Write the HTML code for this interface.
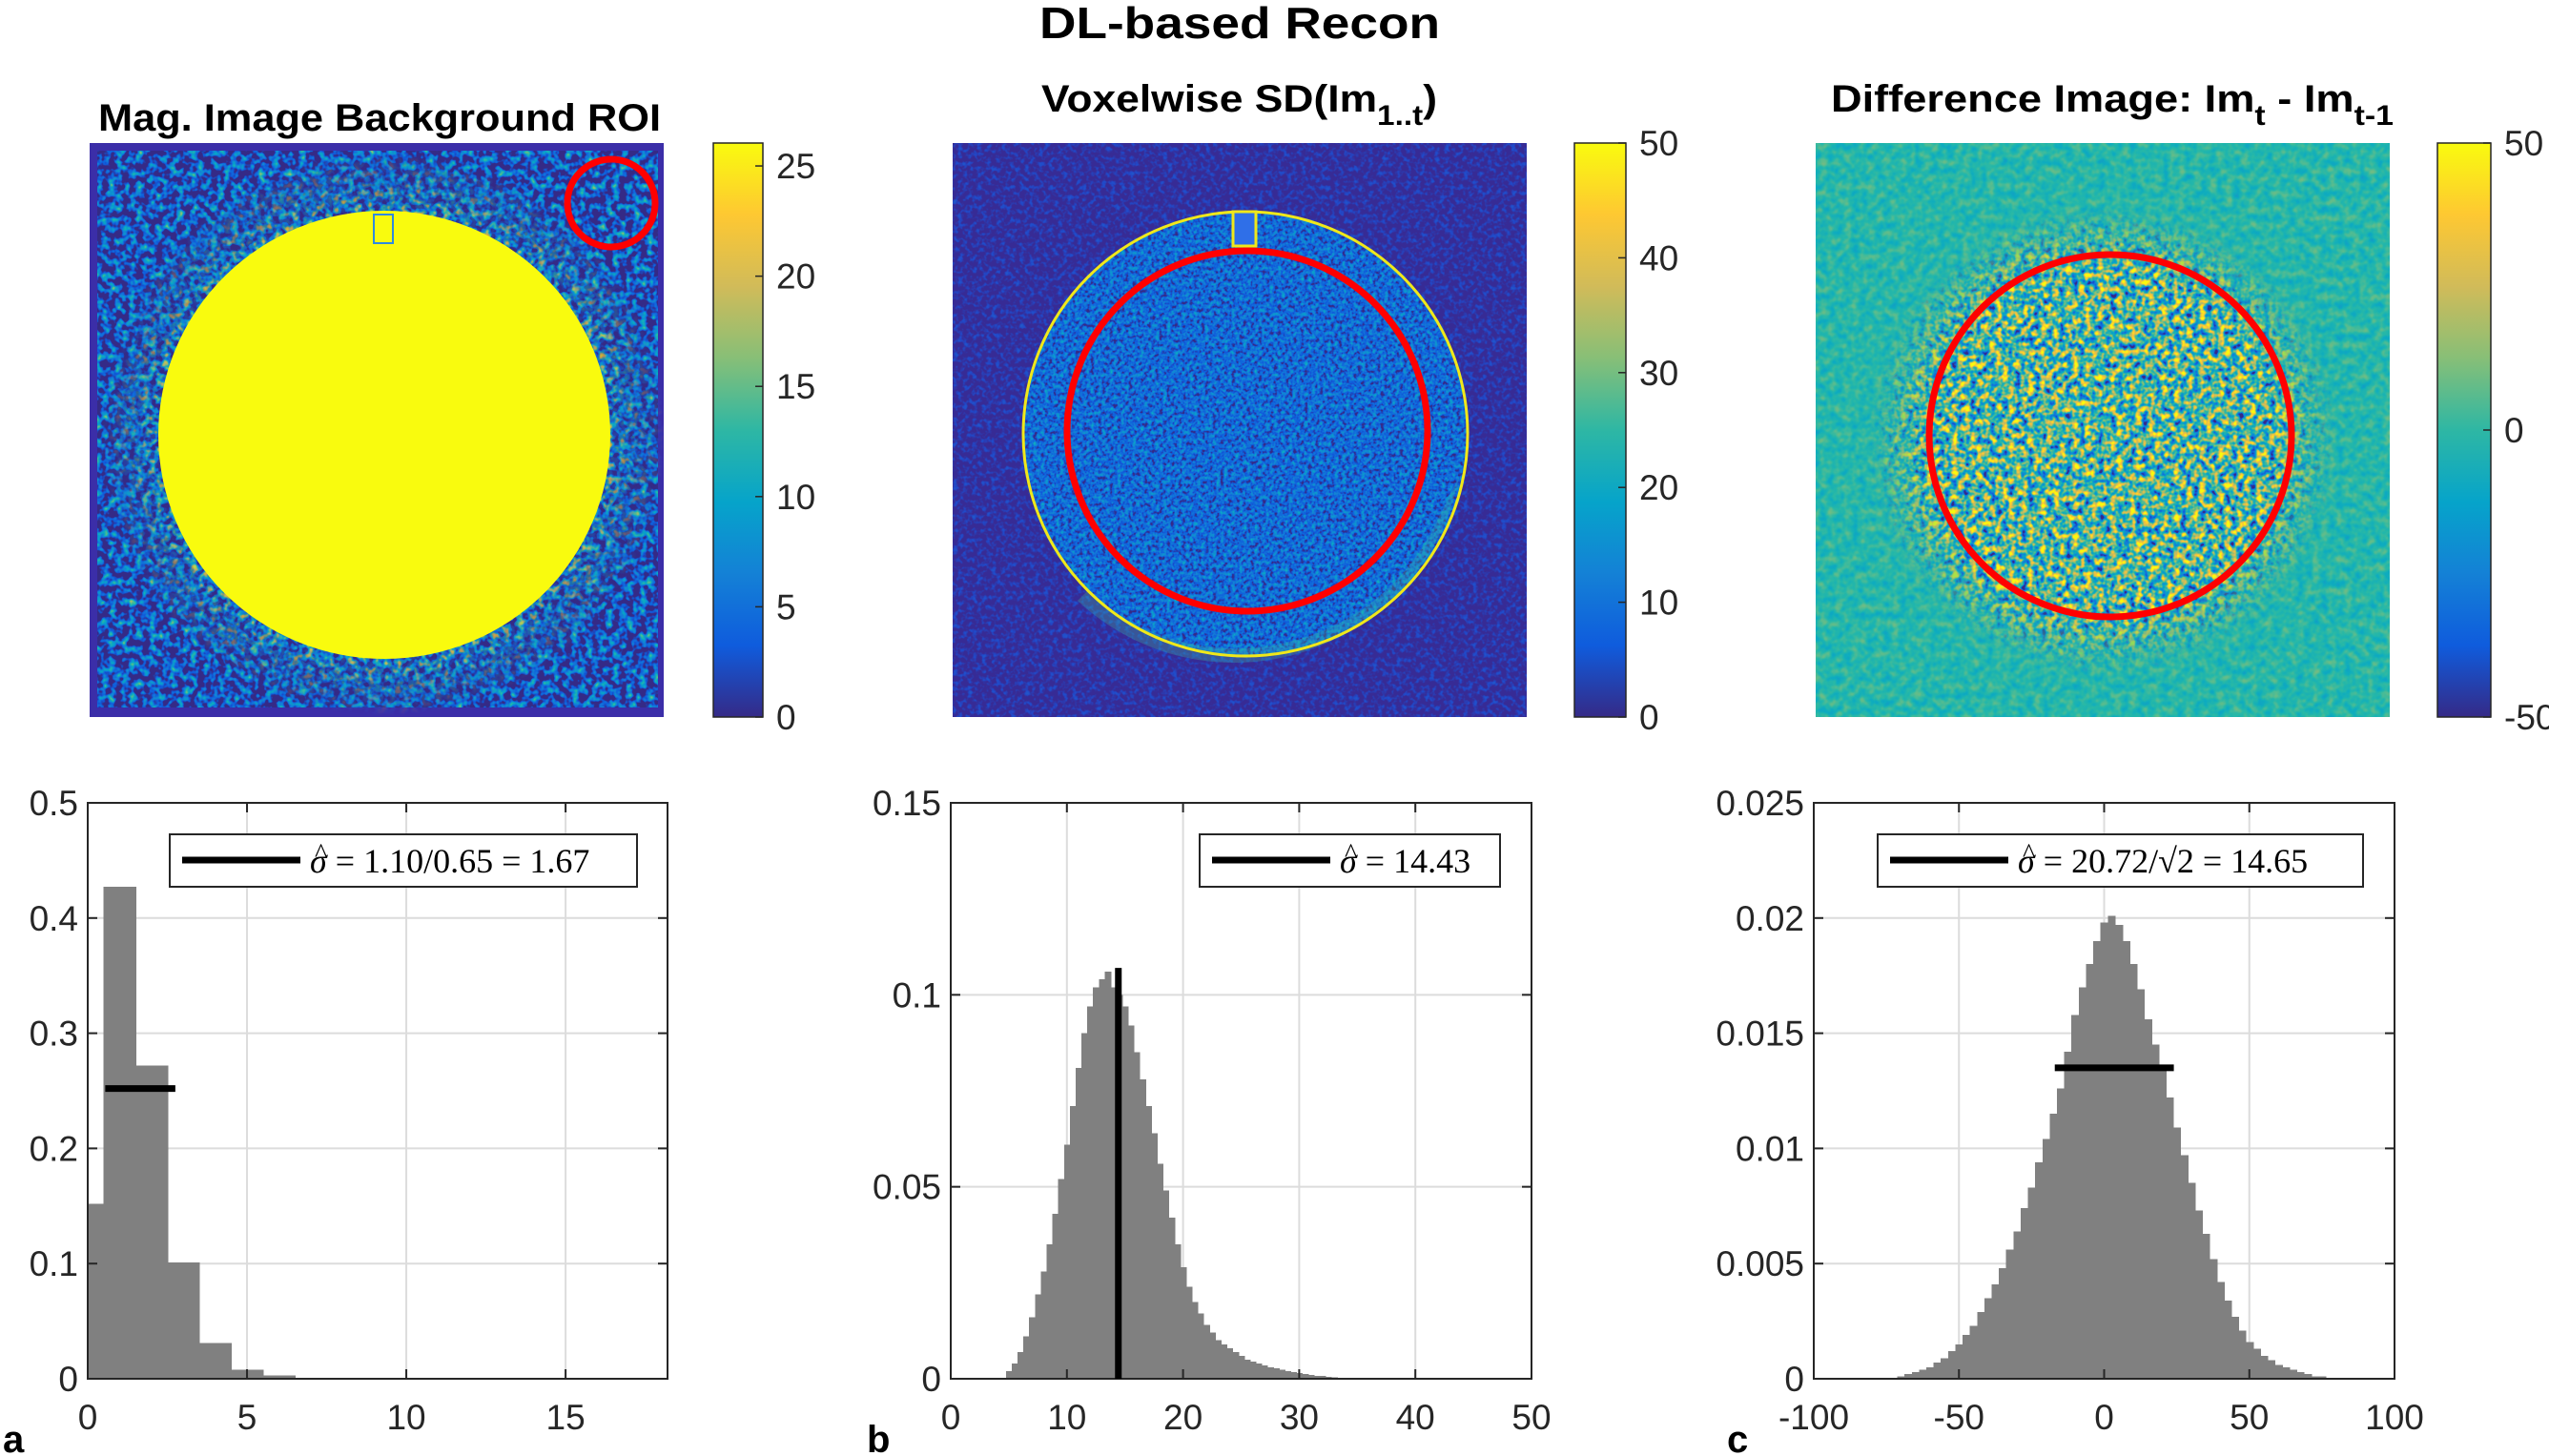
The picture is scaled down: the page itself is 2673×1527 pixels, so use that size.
<!DOCTYPE html>
<html><head><meta charset="utf-8"><style>
html,body{margin:0;padding:0;background:#fff;}
svg{display:block;}
filter{color-interpolation-filters:sRGB;}
text{font-family:"Liberation Sans",Arial,sans-serif;}
.tk{font-size:37px;fill:#262626;}
.ttl{font-weight:bold;font-size:40px;fill:#000;}
.lg{font-family:"Liberation Serif",serif;font-size:36px;fill:#000;}
</style></head><body>
<svg id="fig" width="2673" height="1527" viewBox="0 0 2673 1527" xmlns="http://www.w3.org/2000/svg">
<defs>
<linearGradient id="parula" x1="0" y1="1" x2="0" y2="0">
<stop offset="0" stop-color="#352a87"/><stop offset="0.125" stop-color="#0f5cdd"/><stop offset="0.25" stop-color="#1481d6"/><stop offset="0.375" stop-color="#06a4ca"/><stop offset="0.5" stop-color="#2eb7a4"/><stop offset="0.625" stop-color="#87bf77"/><stop offset="0.75" stop-color="#d1bb59"/><stop offset="0.875" stop-color="#fec832"/><stop offset="1" stop-color="#f9fb0e"/>
</linearGradient>
<filter id="nBg1" x="0" y="0" width="1" height="1" color-interpolation-filters="sRGB"><feTurbulence type="fractalNoise" baseFrequency="0.14" numOctaves="2" seed="3"/><feColorMatrix type="matrix" values="1.4 0 0 0 -0.6 1.4 0 0 0 -0.6 1.4 0 0 0 -0.6 0 0 0 0 1"/><feComponentTransfer><feFuncR type="table" tableValues="0.208 0.059 0.078 0.024 0.18 0.53 0.82 0.996 0.976"/><feFuncG type="table" tableValues="0.166 0.36 0.506 0.643 0.718 0.749 0.733 0.784 0.984"/><feFuncB type="table" tableValues="0.529 0.867 0.839 0.792 0.643 0.467 0.349 0.196 0.055"/></feComponentTransfer><feComposite in2="SourceGraphic" operator="in"/></filter>
<filter id="nRing1" x="0" y="0" width="1" height="1" color-interpolation-filters="sRGB"><feTurbulence type="fractalNoise" baseFrequency="0.14" numOctaves="2" seed="5"/><feColorMatrix type="matrix" values="2.2 0 0 0 -0.85 2.2 0 0 0 -0.85 2.2 0 0 0 -0.85 0 0 0 0 1"/><feComponentTransfer><feFuncR type="table" tableValues="0.208 0.059 0.078 0.024 0.18 0.53 0.82 0.996 0.976"/><feFuncG type="table" tableValues="0.166 0.36 0.506 0.643 0.718 0.749 0.733 0.784 0.984"/><feFuncB type="table" tableValues="0.529 0.867 0.839 0.792 0.643 0.467 0.349 0.196 0.055"/></feComponentTransfer><feComposite in2="SourceGraphic" operator="in"/></filter>
<filter id="nBg2" x="0" y="0" width="1" height="1" color-interpolation-filters="sRGB"><feTurbulence type="fractalNoise" baseFrequency="0.2" numOctaves="2" seed="7"/><feColorMatrix type="matrix" values="0.5 0 0 0 -0.23 0.5 0 0 0 -0.23 0.5 0 0 0 -0.23 0 0 0 0 1"/><feComponentTransfer><feFuncR type="table" tableValues="0.208 0.059 0.078 0.024 0.18 0.53 0.82 0.996 0.976"/><feFuncG type="table" tableValues="0.166 0.36 0.506 0.643 0.718 0.749 0.733 0.784 0.984"/><feFuncB type="table" tableValues="0.529 0.867 0.839 0.792 0.643 0.467 0.349 0.196 0.055"/></feComponentTransfer><feComposite in2="SourceGraphic" operator="in"/></filter>
<filter id="nIn2" x="0" y="0" width="1" height="1" color-interpolation-filters="sRGB"><feTurbulence type="fractalNoise" baseFrequency="0.25" numOctaves="2" seed="9"/><feColorMatrix type="matrix" values="0.7 0 0 0 -0.18 0.7 0 0 0 -0.18 0.7 0 0 0 -0.18 0 0 0 0 1"/><feComponentTransfer><feFuncR type="table" tableValues="0.208 0.059 0.078 0.024 0.18 0.53 0.82 0.996 0.976"/><feFuncG type="table" tableValues="0.166 0.36 0.506 0.643 0.718 0.749 0.733 0.784 0.984"/><feFuncB type="table" tableValues="0.529 0.867 0.839 0.792 0.643 0.467 0.349 0.196 0.055"/></feComponentTransfer><feComposite in2="SourceGraphic" operator="in"/></filter>
<filter id="nBg3" x="0" y="0" width="1" height="1" color-interpolation-filters="sRGB"><feTurbulence type="fractalNoise" baseFrequency="0.12" numOctaves="2" seed="11"/><feColorMatrix type="matrix" values="0.5 0 0 0 0.24 0.5 0 0 0 0.24 0.5 0 0 0 0.24 0 0 0 0 1"/><feComponentTransfer><feFuncR type="table" tableValues="0.208 0.059 0.078 0.024 0.18 0.53 0.82 0.996 0.976"/><feFuncG type="table" tableValues="0.166 0.36 0.506 0.643 0.718 0.749 0.733 0.784 0.984"/><feFuncB type="table" tableValues="0.529 0.867 0.839 0.792 0.643 0.467 0.349 0.196 0.055"/></feComponentTransfer><feComposite in2="SourceGraphic" operator="in"/></filter>
<filter id="nIn3" x="0" y="0" width="1" height="1" color-interpolation-filters="sRGB"><feTurbulence type="fractalNoise" baseFrequency="0.15" numOctaves="2" seed="13"/><feColorMatrix type="matrix" values="1.9 0 0 0 -0.42 1.9 0 0 0 -0.42 1.9 0 0 0 -0.42 0 0 0 0 1"/><feComponentTransfer><feFuncR type="table" tableValues="0.208 0.059 0.078 0.024 0.18 0.53 0.82 0.996 0.976"/><feFuncG type="table" tableValues="0.166 0.36 0.506 0.643 0.718 0.749 0.733 0.784 0.984"/><feFuncB type="table" tableValues="0.529 0.867 0.839 0.792 0.643 0.467 0.349 0.196 0.055"/></feComponentTransfer><feComposite in2="SourceGraphic" operator="in"/></filter>
<radialGradient id="fade"><stop offset="0.75" stop-color="#fff" stop-opacity="1"/><stop offset="1" stop-color="#fff" stop-opacity="0"/></radialGradient>
<mask id="m1"><ellipse cx="403" cy="456" rx="295" ry="295" fill="url(#fade)"/></mask>
<mask id="m3"><ellipse cx="2205" cy="462" rx="245" ry="245" fill="url(#fade)"/></mask>
<clipPath id="c1"><rect x="94" y="150" width="602" height="602"/></clipPath>
<clipPath id="c2"><rect x="999" y="150" width="602" height="602"/></clipPath>
<clipPath id="c3"><rect x="1904" y="150" width="602" height="602"/></clipPath>
</defs>

<text x="1300" y="40" text-anchor="middle" class="ttl" style="font-size:46px" textLength="420" lengthAdjust="spacingAndGlyphs">DL-based Recon</text>

<g clip-path="url(#c1)">
<rect x="94" y="150" width="602" height="602" fill="#3b2ea8"/>
<rect x="102" y="158" width="588" height="584" filter="url(#nBg1)" fill="#000"/>
<g mask="url(#m1)"><rect x="94" y="150" width="602" height="602" filter="url(#nRing1)" fill="#000"/></g>
<ellipse cx="403" cy="456" rx="237" ry="235" fill="#f9fb0e"/>
<rect x="392" y="225" width="20" height="30" fill="#f9fb0e" stroke="#2f8ae0" stroke-width="2"/>
<circle cx="641" cy="213" r="46" fill="none" stroke="#ff0000" stroke-width="7"/>
</g>
<rect x="748" y="150" width="52" height="602" fill="url(#parula)" stroke="#262626" stroke-width="1.5"/>

<g clip-path="url(#c2)">
<rect x="999" y="150" width="602" height="602" fill="#3b2fae"/>
<rect x="999" y="150" width="602" height="602" filter="url(#nBg2)" fill="#000" opacity="0.6"/>
<circle cx="1306" cy="455" r="233" filter="url(#nIn2)" fill="#000"/>
<path d="M1140 620 A233 233 0 0 0 1500 560 L1530 500 A240 240 0 0 1 1130 630 Z" fill="#3cb8a0" opacity="0.3"/>
<circle cx="1306" cy="455" r="233" fill="none" stroke="#f0e81a" stroke-width="3"/>
<rect x="1293" y="222" width="24" height="36" fill="#2f6fe8" stroke="#f0e81a" stroke-width="3"/>
<circle cx="1308" cy="452" r="189" fill="none" stroke="#ff0000" stroke-width="7"/>
</g>
<rect x="1651" y="150" width="54" height="602" fill="url(#parula)" stroke="#262626" stroke-width="1.5"/>

<g clip-path="url(#c3)">
<rect x="1904" y="150" width="602" height="602" fill="#1bbab0"/>
<rect x="1904" y="150" width="602" height="602" filter="url(#nBg3)" fill="#000" opacity="0.6"/>
<g mask="url(#m3)"><rect x="1904" y="150" width="602" height="602" filter="url(#nIn3)" fill="#000"/></g>
<circle cx="2213" cy="457" r="190" fill="none" stroke="#ff0000" stroke-width="7"/>
</g>
<rect x="2556" y="150" width="56" height="602" fill="url(#parula)" stroke="#262626" stroke-width="1.5"/>

<text x="398" y="137" text-anchor="middle" class="ttl" textLength="590" lengthAdjust="spacingAndGlyphs">Mag. Image Background ROI</text>
<text x="1092" y="117" class="ttl" textLength="415" lengthAdjust="spacingAndGlyphs">Voxelwise SD(Im<tspan dy="14" font-size="30">1..t</tspan><tspan dy="-14">)</tspan></text>
<text x="1920" y="117" class="ttl" textLength="590" lengthAdjust="spacingAndGlyphs">Difference Image: Im<tspan dy="14" font-size="30">t</tspan><tspan dy="-14"> - Im</tspan><tspan dy="14" font-size="30">t-1</tspan></text>

<g id="cbticks"></g>
<g id="hists"></g>

<text x="3" y="1523" class="ttl" style="font-size:40px">a</text>
<text x="909" y="1523" class="ttl" style="font-size:40px">b</text>
<text x="1811" y="1523" class="ttl" style="font-size:40px">c</text>
</svg>
<script>
const NS="http://www.w3.org/2000/svg";
const cb1Ticks=[0,5,10,15,20,25];
const cb2Ticks=[0,10,20,30,40,50];
const cb3Ticks=[-50,0,50];
const h1Centers=[0,1,2,3,4,5,6,7];
const h1Values=[0.152,0.427,0.272,0.101,0.031,0.008,0.003,0.001];
const h1XTicks=[0,5,10,15];
const h1YTicks=[0,0.1,0.2,0.3,0.4,0.5];
const h1YLabels=["0","0.1","0.2","0.3","0.4","0.5"];
const h1Sigma=[0.55,2.75,0.252];
const h2Centers=[5,5.5,6,6.5,7,7.5,8,8.5,9,9.5,10,10.5,11,11.5,12,12.5,13,13.5,14,14.5,15,15.5,16,16.5,17,17.5,18,18.5,19,19.5,20,20.5,21,21.5,22,22.5,23,23.5,24,24.5,25,25.5,26,26.5,27,27.5,28,28.5,29,29.5,30,30.5,31,31.5,32,32.5,33,33.5,34];
const h2Values=[0.002,0.004,0.007,0.011,0.016,0.022,0.028,0.035,0.043,0.052,0.061,0.071,0.081,0.090,0.097,0.102,0.104,0.106,0.102,0.100,0.097,0.092,0.085,0.078,0.071,0.064,0.056,0.049,0.042,0.035,0.029,0.024,0.020,0.017,0.014,0.012,0.010,0.009,0.008,0.007,0.006,0.005,0.0045,0.004,0.0035,0.003,0.0027,0.0024,0.002,0.0018,0.0015,0.0012,0.001,0.0008,0.0007,0.0005,0.0004,0.0003,0.0002];
const h2XTicks=[0,10,20,30,40,50];
const h2YTicks=[0,0.05,0.1,0.15];
const h2YLabels=["0","0.05","0.1","0.15"];
const h2Sigma=[14.43,0,0.107];
const h3Centers=[-70,-67.5,-65,-62.5,-60,-57.5,-55,-52.5,-50,-47.5,-45,-42.5,-40,-37.5,-35,-32.5,-30,-27.5,-25,-22.5,-20,-17.5,-15,-12.5,-10,-7.5,-5,-2.5,0,2.5,5,7.5,10,12.5,15,17.5,20,22.5,25,27.5,30,32.5,35,37.5,40,42.5,45,47.5,50,52.5,55,57.5,60,62.5,65,67.5,70,72.5,75,77.5];
const h3Values=[0.0001,0.0002,0.0003,0.0004,0.0005,0.0007,0.0009,0.0012,0.0015,0.0019,0.0023,0.0029,0.0035,0.0041,0.0048,0.0056,0.0064,0.0074,0.0083,0.0094,0.0104,0.0115,0.0126,0.0142,0.0158,0.0170,0.0180,0.0190,0.0198,0.0201,0.0197,0.0190,0.0180,0.0169,0.0156,0.0145,0.0134,0.0122,0.0109,0.0097,0.0085,0.0073,0.0063,0.0052,0.0042,0.0034,0.0027,0.0021,0.0016,0.0013,0.0010,0.0008,0.0006,0.0005,0.0004,0.0003,0.0002,0.0001,0.0001,0.00005];
const h3XTicks=[-100,-50,0,50,100];
const h3YTicks=[0,0.005,0.01,0.015,0.02,0.025];
const h3YLabels=["0","0.005","0.01","0.015","0.02","0.025"];
const h3Sigma=[-17,24,0.0135];

function mk(tag,attrs,parent){const e=document.createElementNS(NS,tag);for(const k in attrs)e.setAttribute(k,attrs[k]);parent.appendChild(e);return e;}

const cbg=document.getElementById('cbticks');
function colorbar(x,w,min,max,ticks){
  const y=v=>752-(v-min)/(max-min)*602;
  ticks.forEach(t=>{
    const l=mk('line',{x1:x+w-8,x2:x+w,y1:y(t),y2:y(t),stroke:'#262626','stroke-width':1.5},cbg);
    
    
    const tx=mk('text',{x:x+w+14,y:y(t)+13,class:'tk'},cbg);
    
    
    tx.textContent=String(t);
  });
}
colorbar(748,52,0,26.04,cb1Ticks);
colorbar(1651,54,0,50,cb2Ticks);
colorbar(2556,56,-50,50,cb3Ticks);

const hg=document.getElementById('hists');
function hist(name,L,R,xmin,xmax,ymax,centers,vals,bw,xt,yt,yl,sig,vertical,legendBox,legendText){
  const T=842,B=1446;
  const g=mk('g',{},hg);
  
  
  const X=v=>L+(v-xmin)/(xmax-xmin)*(R-L);
  const Y=v=>B-v/ymax*(B-T);
  xt.forEach(t=>{mk('line',{x1:X(t),x2:X(t),y1:T,y2:B,stroke:'#dcdcdc','stroke-width':2},g);});
  yt.forEach(t=>{mk('line',{x1:L,x2:R,y1:Y(t),y2:Y(t),stroke:'#dcdcdc','stroke-width':2},g);});
  centers.forEach((c,i)=>{
    const x0=Math.max(xmin,c-bw/2),x1=c+bw/2;
    const r=mk('rect',{x:X(x0),y:Y(vals[i]),width:X(x1)-X(x0)+0.8,height:B-Y(vals[i]),fill:'#808080','shape-rendering':'crispEdges'},g);
    
    
  });
  mk('rect',{x:L,y:T,width:R-L,height:B-T,fill:'none',stroke:'#262626','stroke-width':2},g);
  xt.forEach(t=>{
    mk('line',{x1:X(t),x2:X(t),y1:B,y2:B-10,stroke:'#262626','stroke-width':2},g);
    mk('line',{x1:X(t),x2:X(t),y1:T,y2:T+10,stroke:'#262626','stroke-width':2},g);
    const tx=mk('text',{x:X(t),y:1499,'text-anchor':'middle',class:'tk'},g);
    
    
    tx.textContent=String(t);
  });
  yt.forEach((t,i)=>{
    mk('line',{x1:L,x2:L+10,y1:Y(t),y2:Y(t),stroke:'#262626','stroke-width':2},g);
    mk('line',{x1:R,x2:R-10,y1:Y(t),y2:Y(t),stroke:'#262626','stroke-width':2},g);
    const tx=mk('text',{x:L-10,y:Y(t)+13,'text-anchor':'end',class:'tk'},g);
    
    
    tx.textContent=yl[i];
  });
  let s;
  if(vertical) s=mk('line',{x1:X(sig[0]),x2:X(sig[0]),y1:B,y2:Y(sig[2]),stroke:'#000','stroke-width':7},g);
  else s=mk('line',{x1:X(sig[0]),x2:X(sig[1]),y1:Y(sig[2]),y2:Y(sig[2]),stroke:'#000','stroke-width':7},g);
  
  
  const lb=mk('rect',{x:legendBox[0],y:875,width:legendBox[1]-legendBox[0],height:55,fill:'#fff',stroke:'#262626','stroke-width':2},g);
  
  
  mk('line',{x1:legendBox[0]+13,x2:legendBox[0]+137,y1:902,y2:902,stroke:'#000','stroke-width':7},g);
  const lt=mk('text',{x:legendBox[0]+147,y:915,class:'lg'},g);
  
  
  lt.innerHTML=legendText;
  const hat=mk('text',{x:legendBox[0]+152,y:904,class:'lg',style:'font-size:28px'},g);
  
  
  hat.textContent='^';
}
hist('histogram-a',92,700,0,18.2,0.5,h1Centers,h1Values,1,h1XTicks,h1YTicks,h1YLabels,h1Sigma,false,[178,668],'<tspan font-style="italic">σ</tspan> = 1.10/0.65 = 1.67');
hist('histogram-b',997,1606,0,50,0.15,h2Centers,h2Values,0.5,h2XTicks,h2YTicks,h2YLabels,h2Sigma,true,[1258,1573],'<tspan font-style="italic">σ</tspan> = 14.43');
hist('histogram-c',1902,2511,-100,100,0.025,h3Centers,h3Values,2.5,h3XTicks,h3YTicks,h3YLabels,h3Sigma,false,[1969,2478],'<tspan font-style="italic">σ</tspan> = 20.72/√2 = 14.65');
</script>
</body></html>
